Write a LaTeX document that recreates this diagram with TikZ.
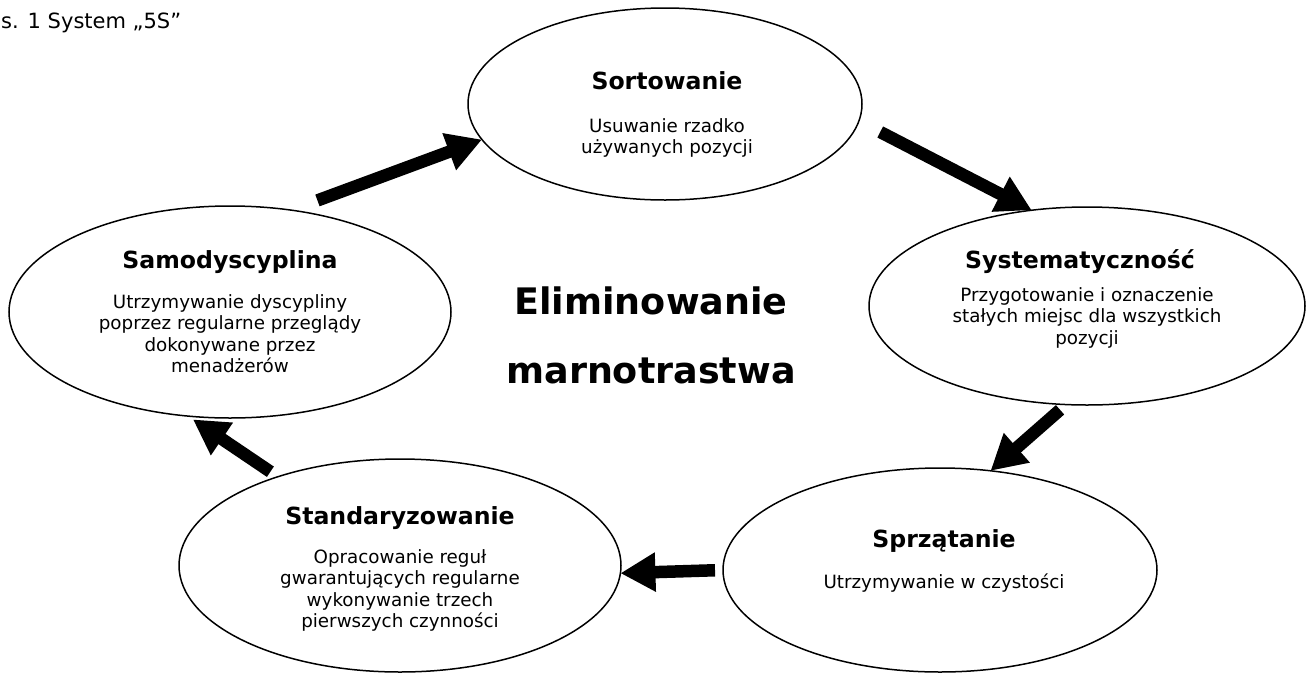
\documentclass[tikz,border=0pt]{standalone}
\usepackage{fontspec}
\setmainfont{DejaVu Sans}
\usetikzlibrary{shapes.geometric, arrows.meta, calc}

\newcommand{\capfont}{\fontsize{21}{25}\selectfont}
\newcommand{\titlefont}{\fontsize{23.6}{28}\selectfont\bfseries}
\newcommand{\bodyfont}{\fontsize{18.3}{21.5}\selectfont}
\newcommand{\bigfont}{\fontsize{36.5}{44}\selectfont\bfseries}
\newcommand{\stack}[1]{\begin{tabular}[t]{@{}c@{}}#1\end{tabular}}

\begin{document}
\begin{tikzpicture}[x=1pt, y=-1pt,
		stage/.style={draw, ellipse, line width=1.5pt, inner sep=0pt, outer sep=0pt},
		stagetitle/.style={anchor=base, inner sep=0pt, font=\titlefont},
		stagetext/.style={anchor=base, inner sep=0pt, font=\bodyfont},
		flow/.style={line width=12.5pt, -{Triangle[length=35pt, width=37pt]}}]
			\useasboundingbox (0,0) rectangle (1307,673);

			\node [anchor=base west, inner sep=0pt, font=\capfont] (caption) at (1,28) {s. 1 System „5S”};

			\begin{scope}
				\node [stage, minimum width=394pt, minimum height=192pt] (sort) at (665,104) {};
				\node [stage, minimum width=436pt, minimum height=198pt] (syst) at (1087,306) {};
				\node [stage, minimum width=434pt, minimum height=204pt] (sprz) at (940,570) {};
				\node [stage, minimum width=442pt, minimum height=213pt] (stand) at (400,565.5) {};
				\node [stage, minimum width=442pt, minimum height=212pt] (samo) at (230,312) {};
			\end{scope}

			\begin{scope}
				\node [stagetitle] (sort title) at (667,89) {Sortowanie};
				\node [stagetext] (sort text) at (667,132) {\stack{Usuwanie rzadko\\używanych pozycji}};

				\node [stagetitle] (syst title) at (1080,268) {Systematyczność};
				\node [stagetext] (syst text) at (1087,301) {\stack{Przygotowanie i oznaczenie\\stałych miejsc dla wszystkich\\pozycji}};

				\node [stagetitle] (sprz title) at (944,547) {Sprzątanie};
				\node [stagetext] (sprz text) at (944,588) {Utrzymywanie w czystości};

				\node [stagetitle] (stand title) at (400,524) {Standaryzowanie};
				\node [stagetext] (stand text) at (400,563) {\stack{Opracowanie reguł\\gwarantujących regularne\\wykonywanie trzech\\pierwszych czynności}};

				\node [stagetitle] (samo title) at (230,268) {Samodyscyplina};
				\node [stagetext] (samo text) at (230,308) {\stack{Utrzymywanie dyscypliny\\poprzez regularne przeglądy\\dokonywane przez\\menadżerów}};
			\end{scope}

			\node [anchor=base, inner sep=0pt, font=\bigfont] (waste1) at (651,314) {Eliminowanie};
			\node [anchor=base, inner sep=0pt, font=\bigfont] (waste2) at (651,383) {marnotrastwa};

			\begin{scope}
				\draw [flow, shorten <=28pt] (samo.59.5) -- (sort.191.2);
				\draw [flow, shorten <=24pt] (sort.355) -- (syst.120.6);
				\draw [flow, shorten <=8pt] (syst.258) -- (sprz.63.4);
				\draw [flow, shorten <=8pt] (sprz.180.8) -- (stand.358.2);
				\draw [flow, shorten <=9pt, shorten >=6pt] (stand.144.9) -- (samo.248);
			\end{scope}
		\end{tikzpicture}
\end{document}
